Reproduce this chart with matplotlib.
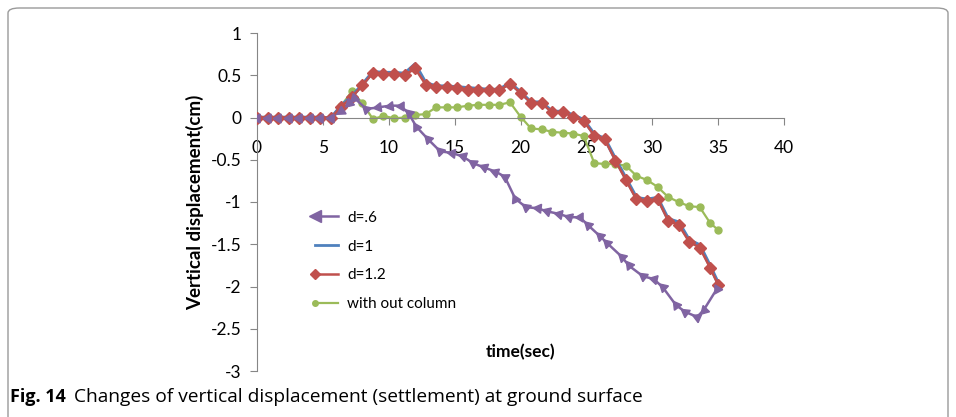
import numpy as np
import matplotlib.pyplot as plt
from matplotlib.lines import Line2D
from matplotlib.legend_handler import HandlerLine2D
from matplotlib.patches import FancyBboxPatch

plt.rcParams['font.family'] = ['Lato', 'DejaVu Sans']

# time axis shared by d=1, d=1.2 and the no-column case
t = [0, 0.8, 1.6, 2.4, 3.2, 4.0, 4.8, 5.6, 6.4, 7.2, 8.0, 8.8, 9.6, 10.4, 11.2,
     12.0, 12.8, 13.6, 14.4, 15.2, 16.0, 16.8, 17.6, 18.4, 19.2, 20.0, 20.8,
     21.6, 22.4, 23.2, 24.0, 24.8, 25.6, 26.4, 27.2, 28.0, 28.8, 29.6, 30.4,
     31.2, 32.0, 32.8, 33.6, 34.4, 35.0]

d10 = [0, 0, 0, 0, 0, 0, 0, -0.01, 0.14, 0.25, 0.39, 0.54, 0.53, 0.53, 0.52,
       0.63, 0.41, 0.37, 0.37, 0.36, 0.35, 0.34, 0.33, 0.33, 0.41, 0.30, 0.18,
       0.18, 0.07, 0.07, 0.03, -0.03, -0.20, -0.25, -0.49, -0.72, -0.95, -0.97,
       -0.95, -1.20, -1.24, -1.45, -1.51, -1.76, -1.96]

d12 = [0, 0, 0, 0, 0, 0, 0, -0.01, 0.13, 0.24, 0.38, 0.53, 0.51, 0.52, 0.50,
       0.58, 0.39, 0.36, 0.36, 0.345, 0.33, 0.33, 0.32, 0.32, 0.40, 0.29, 0.175,
       0.17, 0.06, 0.06, 0.01, -0.04, -0.215, -0.26, -0.51, -0.74, -0.97, -0.99,
       -0.96, -1.22, -1.27, -1.47, -1.54, -1.78, -1.98]

no_col = [0, 0, 0, 0, 0, 0, 0, 0, 0.14, 0.31, 0.17, -0.02, 0.02, -0.01, 0.0,
          0.03, 0.04, 0.12, 0.12, 0.12, 0.14, 0.15, 0.15, 0.15, 0.18, 0.01, -0.13,
          -0.14, -0.17, -0.18, -0.19, -0.22, -0.54, -0.55, -0.55, -0.57, -0.69,
          -0.74, -0.82, -0.94, -1.0, -1.05, -1.06, -1.25, -1.33]

# d=.6 was sampled on its own time steps
t6 = [0, 0.8, 1.6, 2.4, 3.2, 4.0, 4.8, 5.6, 6.4, 7.0, 7.4, 8.3, 9.2, 10.1, 10.9,
      11.5, 12.1, 13.0, 13.9, 14.8, 15.6, 16.4, 17.2, 18.1, 18.8, 19.6, 20.4,
      21.3, 22.0, 22.9, 23.7, 24.5, 25.1, 26.0, 26.6, 27.7, 28.2, 29.3, 30.1,
      30.8, 31.8, 32.5, 33.4, 33.9, 34.9]
d06 = [0, 0, 0, 0, 0, 0, 0, 0, 0.08, 0.17, 0.23, 0.10, 0.12, 0.14, 0.14,
       0.05, -0.11, -0.26, -0.40, -0.42, -0.46, -0.54, -0.59, -0.64, -0.70,
       -0.96, -1.06, -1.075, -1.11, -1.14, -1.18, -1.18, -1.27, -1.40, -1.49,
       -1.65, -1.75, -1.88, -1.91, -2.01, -2.22, -2.30, -2.36, -2.28, -2.03]

xticks = [0, 5, 10, 15, 20, 25, 30, 35, 40]
yticks = [-3, -2.5, -2, -1.5, -1, -0.5, 0, 0.5, 1]
ylabels = ['-3', '-2.5', '-2', '-1.5', '-1', '-0.5', '0', '0.5', '1']

purple = '#8064A2'
blue = '#4F81BD'
red = '#C0504D'
green = '#9BBB59'
axis_grey = '#868686'


class LeftMarker(HandlerLine2D):
    # legend marker sits at the left end of the sample line
    def create_artists(self, *args, **kwargs):
        arts = super().create_artists(*args, **kwargs)
        for a in arts:
            a.set_markevery([0])
        return arts


fig = plt.figure(figsize=(9.56, 4.17), dpi=100)
ax = fig.add_axes([257 / 956, 1 - 371 / 417, 527 / 956, 338 / 417])
ax.set_xlim(0, 40)
ax.set_ylim(-3, 1)

ax.plot(t6, d06, color=purple, lw=1.8, zorder=3)
ax.plot(t, d10, color=blue, lw=2.6, zorder=4)
ax.plot(t, d12, color=red, lw=1.8, marker='D', ms=6.5, mec=red, zorder=5)
ax.plot(t, no_col, color=green, lw=1.6, marker='o', ms=5, mec=green, zorder=2)

# triangles on d=.6 point back along the curve
pts = ax.transData.transform(np.column_stack([t6, d06]))
for i in range(len(t6)):
    if i == 0:
        dx, dy = pts[0] - pts[1]
    else:
        dx, dy = pts[i - 1] - pts[i]
    ang = np.degrees(np.arctan2(dy, dx)) - 90
    ax.plot(t6[i], d06[i], marker=(3, 0, ang), ms=7.5, color=purple,
            mec=purple, ls='none', zorder=6)

for s in ['top', 'right']:
    ax.spines[s].set_visible(False)
ax.spines['bottom'].set_position(('data', 0))
ax.spines['left'].set_color(axis_grey)
ax.spines['bottom'].set_color(axis_grey)
ax.set_xticks(xticks)
ax.set_xticklabels([str(x) for x in xticks])
ax.set_yticks(yticks)
ax.set_yticklabels(ylabels)
ax.tick_params(axis='x', direction='out', length=5, color=axis_grey,
               labelsize=12.5, pad=11)
ax.tick_params(axis='y', direction='out', length=5, color=axis_grey,
               labelsize=12.5, pad=6)

ax.set_ylabel('Vertical displacement(cm)', fontsize=13.5, fontweight='bold',
              labelpad=5)
ax.text(0.5, 0.055, 'time(sec)', transform=ax.transAxes, ha='center',
        va='center', fontsize=12.5, fontweight='bold')

handles = [
    Line2D([], [], color=purple, lw=1.8, marker='<', ms=8),
    Line2D([], [], color=blue, lw=2),
    Line2D([], [], color=red, lw=1.8, marker='D', ms=5),
    Line2D([], [], color=green, lw=1.6, marker='o', ms=4),
]
ax.legend(handles, ['d=.6', 'd=1', 'd=1.2', 'with out column'],
          handler_map={Line2D: LeftMarker(numpoints=2)},
          loc='upper left', bbox_to_anchor=(297 / 956, 1 - 197 / 417),
          bbox_transform=fig.transFigure, frameon=False, fontsize=11,
          handlelength=2.1, handletextpad=0.3, labelspacing=0.97)

# rounded frame around the figure and caption
frame = FancyBboxPatch((8 / 956, -20 / 417), 940 / 956, 429 / 417,
                       boxstyle='round,pad=0,rounding_size=0.012',
                       transform=fig.transFigure, fill=False,
                       edgecolor='#9a9a9a', lw=1)
fig.patches.append(frame)

fig.text(10 / 956, 1 - 397 / 417, 'Fig. 14', fontsize=13, fontweight='bold',
         va='center', family=['Open Sans', 'DejaVu Sans'])
fig.text(74 / 956, 1 - 397 / 417,
         'Changes of vertical displacement (settlement) at ground surface',
         fontsize=13.8, va='center', family=['Open Sans', 'DejaVu Sans'])

fig.savefig('out.png', dpi=100)
